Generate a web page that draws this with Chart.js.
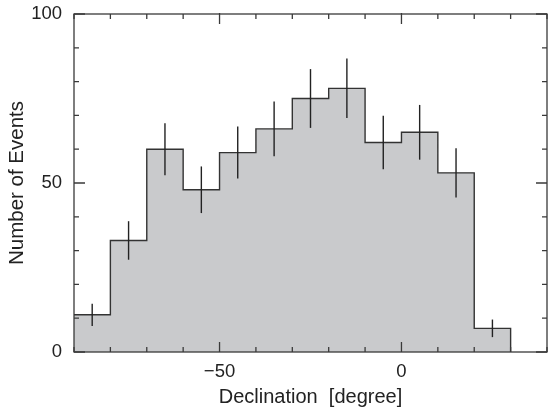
<!DOCTYPE html>
<html>
<head>
<meta charset="utf-8">
<script src="https://cdn.jsdelivr.net/npm/chart.js@4.4.0/dist/chart.umd.min.js"></script>
<style>
  html, body { margin: 0; padding: 0; background: #fff; }
  #wrap { width: 548px; height: 415px; }
</style>
</head>
<body>
<div id="wrap"><canvas id="histo"></canvas></div>
<script>
// declination bins (degree), bin edges
const binEdges = [-90, -80, -70, -60, -50, -40, -30, -20, -10, 0, 10, 20, 30];
// events per bin
const counts = [11, 33, 60, 48, 59, 66, 75, 78, 62, 65, 53, 7];
// error bar half-length per bin
const errors = [3.3, 5.7, 7.7, 6.9, 7.7, 8.1, 8.7, 8.8, 7.9, 8.1, 7.3, 2.6];
// labelled ticks
const xLabelTicks = [-50, 0];
const yLabelTicks = [0, 50, 100];

const FONT = "'Liberation Sans', Arial, Helvetica, sans-serif";

// outline of the histogram as a polyline from the bins
const outline = [];
counts.forEach((n, i) => {
    outline.push({ x: binEdges[i], y: n });
    outline.push({ x: binEdges[i + 1], y: n });
});
outline.push({ x: binEdges[binEdges.length - 1], y: 0 });

const fmt = v => (v < 0 ? '\u2212' + Math.abs(v) : String(v));

// error bars on top of the bars
const errorBars = {
    id: 'errorBars',
    afterDatasetsDraw(chart) {
        const { ctx, scales: { x, y } } = chart;
        ctx.save();
        ctx.strokeStyle = '#222';
        ctx.lineWidth = 1.4;
        counts.forEach((n, i) => {
            const px = x.getPixelForValue((binEdges[i] + binEdges[i + 1]) / 2);
            ctx.beginPath();
            ctx.moveTo(px, y.getPixelForValue(n + errors[i]));
            ctx.lineTo(px, y.getPixelForValue(n - errors[i]));
            ctx.stroke();
        });
        ctx.restore();
    }
};

// frame with inward ticks on all four sides
const frame = {
    id: 'frame',
    afterDraw(chart) {
        const { ctx, chartArea: a, scales: { x, y } } = chart;
        ctx.save();
        ctx.strokeStyle = '#3a3a3a';
        ctx.lineWidth = 1.3;
        ctx.strokeRect(a.left, a.top, a.right - a.left, a.bottom - a.top);
        ctx.beginPath();
        x.ticks.forEach(t => {
            const px = x.getPixelForValue(t.value);
            const major = xLabelTicks.includes(t.value);
            const len = major ? 10 : 5;
            ctx.moveTo(px, a.bottom);
            ctx.lineTo(px, a.bottom - len);
            ctx.moveTo(px, major ? a.top - 1 : a.top);
            ctx.lineTo(px, a.top + len);
        });
        y.ticks.forEach(t => {
            const py = y.getPixelForValue(t.value);
            const len = yLabelTicks.includes(t.value) ? 11 : 5;
            ctx.moveTo(a.left, py);
            ctx.lineTo(a.left + len, py);
            ctx.moveTo(a.right, py);
            ctx.lineTo(a.right - len, py);
        });
        ctx.stroke();
        ctx.restore();
    }
};

new Chart(document.getElementById('histo'), {
    type: 'line',
    data: {
        datasets: [{
            data: outline,
            borderColor: '#333',
            borderWidth: 1.4,
            backgroundColor: '#c9cacc',
            fill: 'origin',
            tension: 0,
            pointRadius: 0,
            clip: false
        }]
    },
    options: {
        responsive: true,
        maintainAspectRatio: false,
        animation: false,
        layout: { padding: { top: 14, right: 1, left: 0, bottom: 0 } },
        plugins: { legend: { display: false }, tooltip: { enabled: false } },
        scales: {
            x: {
                type: 'linear',
                min: -90,
                max: 40,
                afterFit(s) {
                    s.height = 63;
                    s.paddingLeft = 0;
                    s.paddingRight = 0;
                },
                grid: { display: false, drawTicks: false },
                border: { display: false },
                ticks: {
                    stepSize: 10,
                    autoSkip: false,
                    maxRotation: 0,
                    padding: 9,
                    color: '#222',
                    font: { family: FONT, size: 18.5 },
                    callback: v => (xLabelTicks.includes(v) ? fmt(v) : '')
                },
                title: {
                    display: true,
                    text: 'Declination  [degree]',
                    color: '#222',
                    font: { family: FONT, size: 20 },
                    padding: { top: 0, bottom: 6 }
                }
            },
            y: {
                min: 0,
                max: 100,
                afterFit(s) {
                    s.width = 74;
                    s.paddingTop = 0;
                    s.paddingBottom = 0;
                },
                grid: { display: false, drawTicks: false },
                border: { display: false },
                ticks: {
                    stepSize: 10,
                    autoSkip: false,
                    padding: 12,
                    color: '#222',
                    font: { family: FONT, size: 18.5 },
                    callback: v => (yLabelTicks.includes(v) ? fmt(v) : '')
                },
                title: {
                    display: true,
                    text: 'Number of Events',
                    color: '#222',
                    font: { family: FONT, size: 20.5 },
                    padding: { top: 5, bottom: 0 }
                }
            }
        }
    },
    plugins: [errorBars, frame]
});
</script>
</body>
</html>
